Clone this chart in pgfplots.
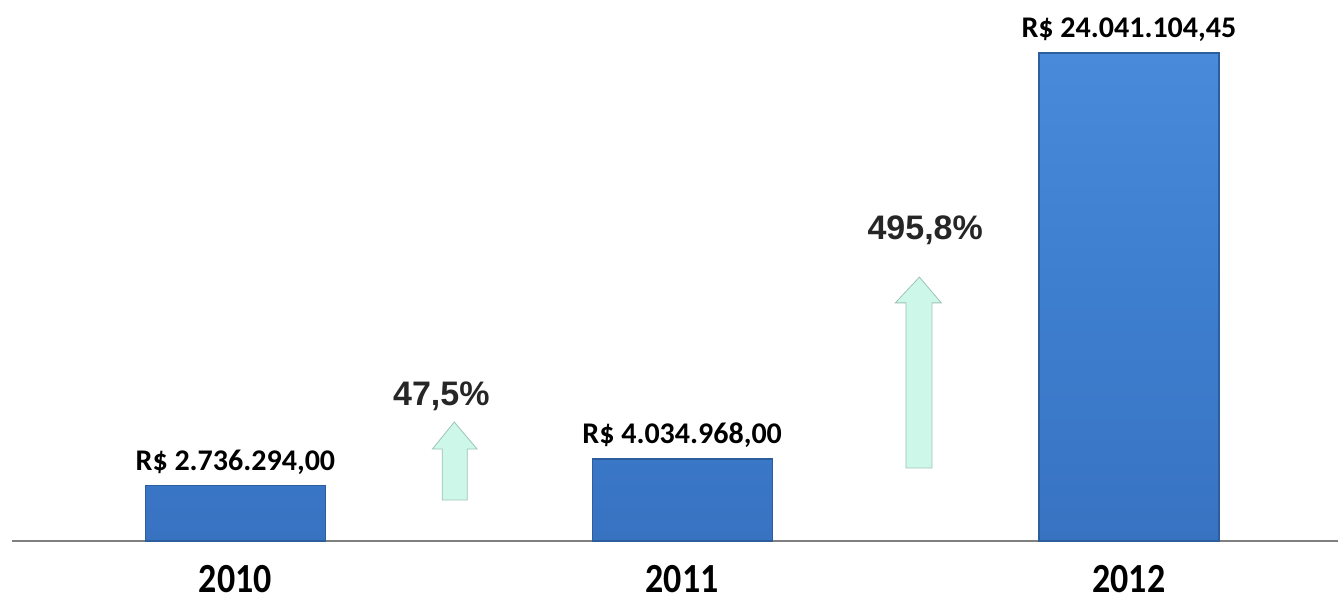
\documentclass[border=0pt]{standalone}
\usepackage{pgfplots}
\pgfplotsset{compat=1.18}
\usepackage{fontspec}
\setmainfont{Carlito}
\newfontfamily\arialfont{Liberation Sans}
\definecolor{barmid}{HTML}{3E7ECF}
\definecolor{bartop}{HTML}{4A8ADA}
\definecolor{barbot}{HTML}{3873C2}
\definecolor{baredge}{HTML}{2C5E9E}
\definecolor{mint}{HTML}{CDF7E9}
\definecolor{mintedge}{HTML}{9CC4B6}
\begin{document}
\begin{tikzpicture}
\begin{axis}[
  scale only axis,
  width=663pt, height=270.5pt,
  xmin=-0.5, xmax=2.468,
  ymin=0, ymax=26650000,
  axis x line=bottom,
  axis y line=none,
  axis line style={draw=black!50, line width=0.8pt, -},
  xtick={0,1,2},
  xticklabels={2010,2011,2012},
  major tick length=0pt,
  xticklabel style={font=\bfseries\fontsize{18}{18}\selectfont, yshift=-8pt, yscale=1.15},
  clip=false,
  ybar, bar width=90pt,
  nodes near coords,
  point meta=explicit symbolic,
  every node near coord/.append style={font=\bfseries\fontsize{15}{15}\selectfont, anchor=south, yshift=2pt, text=black},
]
\addplot[draw=baredge, line width=0.6pt, top color=bartop, bottom color=barbot, middle color=barmid]
  coordinates {(0,2736294) [R\$ 2.736.294,00] (1,4034968) [R\$ 4.034.968,00] (2,24041104.45) [R\$ 24.041.104,45]};
% growth arrows
\addplot[draw=mintedge, line width=0.4pt, fill=mint, sharp plot, nodes near coords={}, forget plot]
  coordinates {(0.463,2020000) (0.519,2020000) (0.519,4530000) (0.541,4530000) (0.490,5860000) (0.441,4530000) (0.463,4530000) (0.463,2020000)} -- cycle;
\addplot[draw=mintedge, line width=0.4pt, fill=mint, sharp plot, nodes near coords={}, forget plot]
  coordinates {(1.501,3600000) (1.559,3600000) (1.559,11730000) (1.580,11730000) (1.531,13000000) (1.477,11730000) (1.501,11730000) (1.501,3600000)} -- cycle;
\node[font=\arialfont\bfseries\fontsize{17}{17}\selectfont, text=black!85] at (axis cs:0.461,7140000) {47,5\%};
\node[font=\arialfont\bfseries\fontsize{17}{17}\selectfont, text=black!85] at (axis cs:1.544,15320000) {495,8\%};
\end{axis}
\pgfresetboundingbox
\path (current axis.south west) ++(-6pt,-31.5pt) rectangle (current axis.north east);
\end{tikzpicture}
\end{document}
